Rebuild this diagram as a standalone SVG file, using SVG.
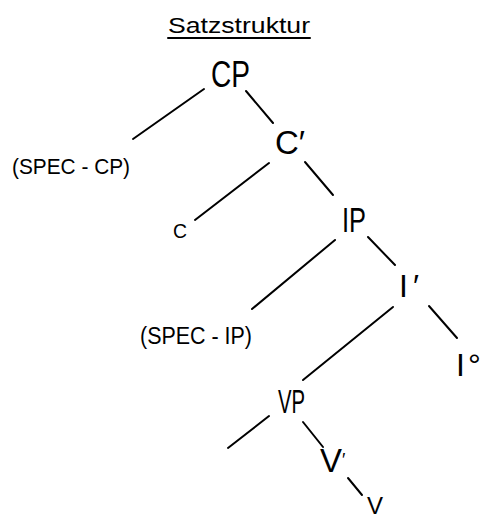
<svg xmlns="http://www.w3.org/2000/svg" width="486" height="519" viewBox="0 0 486 519">
<style>
.t{font-family:"Liberation Sans","DejaVu Sans",sans-serif;fill:#000}
.e{stroke:#000;stroke-width:2;stroke-linecap:round;fill:none}
</style>
<rect width="486" height="519" fill="#fff"/>
<g id="title">
<text class="t" x="168" y="33" font-size="22" textLength="142" lengthAdjust="spacingAndGlyphs">Satzstruktur</text>
<line class="e" x1="168" y1="38" x2="310" y2="38" stroke-width="1.5"/>
</g>
<g id="connectors">
<line class="e" x1="204" y1="89" x2="133" y2="139"/>
<line class="e" x1="246" y1="91" x2="273" y2="123"/>
<line class="e" x1="269" y1="163" x2="195" y2="220"/>
<line class="e" x1="305" y1="162" x2="333" y2="195"/>
<line class="e" x1="335" y1="240" x2="252" y2="309"/>
<line class="e" x1="368" y1="237" x2="395" y2="265"/>
<line class="e" x1="393" y1="307" x2="303" y2="380"/>
<line class="e" x1="429" y1="306" x2="457" y2="338"/>
<line class="e" x1="269" y1="416" x2="228" y2="448"/>
<line class="e" x1="303" y1="422" x2="323" y2="447"/>
<line class="e" x1="348" y1="478" x2="362" y2="495"/>
</g>
<g id="CP"><text class="t" x="211" y="87" font-size="37" textLength="39" lengthAdjust="spacingAndGlyphs">CP</text></g>
<g id="SPEC-CP"><text class="t" x="12" y="174" font-size="22" textLength="118" lengthAdjust="spacingAndGlyphs">(SPEC - CP)</text></g>
<g id="C1"><text class="t" x="275" y="154" font-size="34" textLength="30" lengthAdjust="spacingAndGlyphs">C′</text></g>
<g id="C"><text class="t" x="173" y="238" font-size="21" textLength="14" lengthAdjust="spacingAndGlyphs">C</text></g>
<g id="IP"><text class="t" x="342" y="232" font-size="35" textLength="24" lengthAdjust="spacingAndGlyphs">IP</text></g>
<g id="SPEC-IP"><text class="t" x="140" y="344" font-size="23" textLength="112" lengthAdjust="spacingAndGlyphs">(SPEC - IP)</text></g>
<g id="I1"><text class="t" x="399" y="297" font-size="32">I<tspan dx="5">′</tspan></text></g>
<g id="I0"><text class="t" x="456" y="376" font-size="32">I<tspan dx="3">°</tspan></text></g>
<g id="VP"><text class="t" x="278" y="413" font-size="34" textLength="27" lengthAdjust="spacingAndGlyphs">VP</text></g>
<g id="V1"><text class="t" x="320" y="472" font-size="33">V<tspan font-size="18" dy="-6">′</tspan></text></g>
<g id="V"><text class="t" x="367" y="514" font-size="24">V</text></g>
</svg>
